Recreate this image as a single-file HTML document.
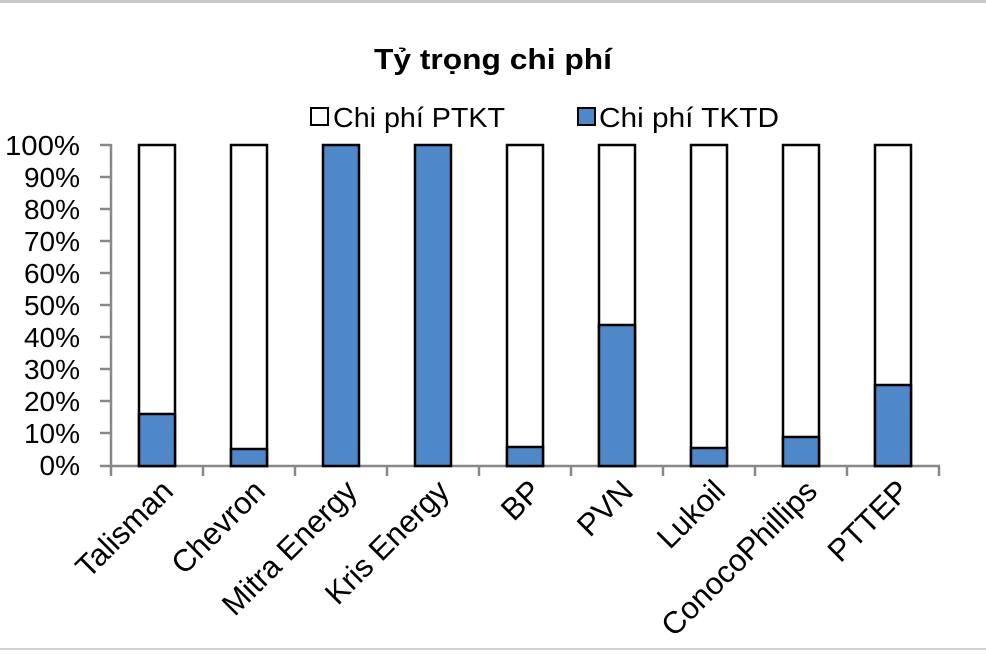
<!DOCTYPE html>
<html><head><meta charset="utf-8"><style>
body{margin:0;background:#fff}
svg{display:block}
text{font-family:"Liberation Sans","DejaVu Sans",sans-serif;fill:#000}
</style></head><body>
<svg width="986" height="655" viewBox="0 0 986 655" xmlns="http://www.w3.org/2000/svg">
<rect x="0" y="0" width="986" height="655" fill="#fff"/>
<rect x="0" y="0" width="986" height="3" fill="#c8c8c8"/>
<rect x="0" y="648" width="986" height="2" fill="#d0d0d0"/>
<text x="493" y="69" font-size="29" font-weight="bold" text-anchor="middle" textLength="238" lengthAdjust="spacingAndGlyphs">Tỷ trọng chi phí</text>
<rect x="311" y="108" width="17" height="17" fill="#fff" stroke="#000" stroke-width="2"/>
<text x="333" y="127" font-size="28" textLength="172" lengthAdjust="spacingAndGlyphs">Chi phí PTKT</text>
<rect x="578" y="108" width="17" height="17" fill="#4f88c9" stroke="#000" stroke-width="2"/>
<text x="599" y="127" font-size="28" textLength="180" lengthAdjust="spacingAndGlyphs">Chi phí TKTD</text>
<g stroke="#888" stroke-width="2.5">
<line x1="111" y1="144" x2="111" y2="466"/>
<line x1="100" y1="466" x2="940" y2="466"/>
<line x1="100" y1="145" x2="111" y2="145"/><line x1="100" y1="177" x2="111" y2="177"/>
<line x1="100" y1="209" x2="111" y2="209"/><line x1="100" y1="241" x2="111" y2="241"/>
<line x1="100" y1="273" x2="111" y2="273"/><line x1="100" y1="305" x2="111" y2="305"/>
<line x1="100" y1="337" x2="111" y2="337"/><line x1="100" y1="369" x2="111" y2="369"/>
<line x1="100" y1="401" x2="111" y2="401"/><line x1="100" y1="433" x2="111" y2="433"/>
<line x1="111" y1="466" x2="111" y2="476"/><line x1="203" y1="466" x2="203" y2="476"/>
<line x1="295" y1="466" x2="295" y2="476"/><line x1="387" y1="466" x2="387" y2="476"/>
<line x1="479" y1="466" x2="479" y2="476"/><line x1="571" y1="466" x2="571" y2="476"/>
<line x1="663" y1="466" x2="663" y2="476"/><line x1="755" y1="466" x2="755" y2="476"/>
<line x1="847" y1="466" x2="847" y2="476"/><line x1="939" y1="466" x2="939" y2="476"/>
</g>
<g font-size="28" text-anchor="end">
<text x="80" y="155" textLength="75" lengthAdjust="spacingAndGlyphs">100%</text><text x="80" y="187">90%</text><text x="80" y="219">80%</text>
<text x="80" y="251">70%</text><text x="80" y="283">60%</text><text x="80" y="315">50%</text>
<text x="80" y="347">40%</text><text x="80" y="379">30%</text><text x="80" y="411">20%</text>
<text x="80" y="443">10%</text><text x="80" y="475">0%</text>
</g>
<g stroke="#000" stroke-width="2.5">
<rect x="139" y="145" width="36" height="321" fill="#fff"/><rect x="139" y="414" width="36" height="52" fill="#4f88c9"/>
<rect x="231" y="145" width="36" height="321" fill="#fff"/><rect x="231" y="449" width="36" height="17" fill="#4f88c9"/>
<rect x="323" y="145" width="36" height="321" fill="#4f88c9"/>
<rect x="415" y="145" width="36" height="321" fill="#4f88c9"/>
<rect x="507" y="145" width="36" height="321" fill="#fff"/><rect x="507" y="447" width="36" height="19" fill="#4f88c9"/>
<rect x="599" y="145" width="36" height="321" fill="#fff"/><rect x="599" y="325" width="36" height="141" fill="#4f88c9"/>
<rect x="691" y="145" width="36" height="321" fill="#fff"/><rect x="691" y="448" width="36" height="18" fill="#4f88c9"/>
<rect x="783" y="145" width="36" height="321" fill="#fff"/><rect x="783" y="437" width="36" height="29" fill="#4f88c9"/>
<rect x="875" y="145" width="36" height="321" fill="#fff"/><rect x="875" y="385" width="36" height="81" fill="#4f88c9"/>
</g>
<g font-size="31" text-anchor="end">
<text transform="translate(175,493) rotate(-45)">Talisman</text>
<text transform="translate(267,493) rotate(-45)">Chevron</text>
<text transform="translate(359,493) rotate(-45)">Mitra Energy</text>
<text transform="translate(451,493) rotate(-45)">Kris Energy</text>
<text transform="translate(543,493) rotate(-45)">BP</text>
<text transform="translate(635,493) rotate(-45)">PVN</text>
<text transform="translate(727,493) rotate(-45)">Lukoil</text>
<text transform="translate(819,493) rotate(-45)">ConocoPhillips</text>
<text transform="translate(911,493) rotate(-45)">PTTEP</text>
</g>
</svg>
</body></html>
